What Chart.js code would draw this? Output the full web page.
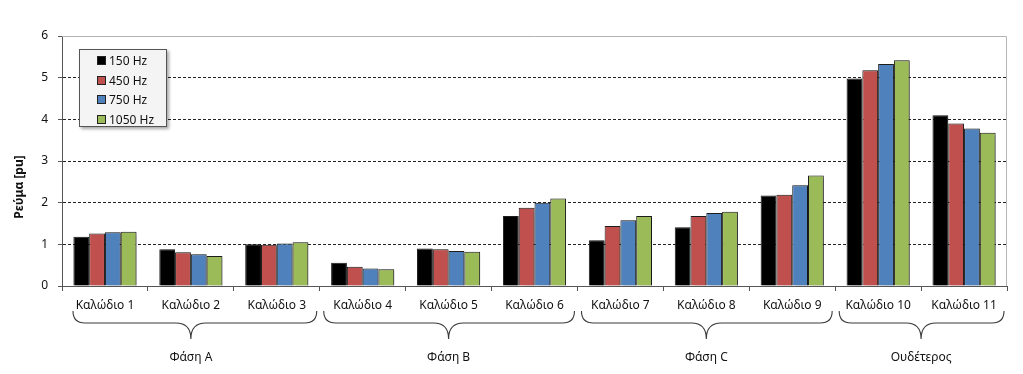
<!DOCTYPE html>
<html>
<head>
<meta charset="utf-8">
<script src="https://cdn.jsdelivr.net/npm/chart.js@4/dist/chart.umd.min.js"></script>
<style>
  html, body { margin: 0; padding: 0; background: #fff; }
  .wrap { position: relative; width: 1023px; height: 374px; }
  .legend {
    position: absolute; left: 79px; top: 49px; width: 88px; height: 78px;
    box-sizing: border-box; background: #f4f4f4; border: 1px solid #555;
    box-shadow: 2px 2px 3px rgba(0,0,0,0.35);
    font: 12px 'Noto Sans', sans-serif; color: #111; padding-top: 1px;
  }
  .legend div { height: 19.5px; line-height: 19.5px; padding-left: 17px; }
  .legend span {
    display: inline-block; width: 7px; height: 7px; border: 1px solid #222;
    margin-right: 3px;
  }
</style>
</head>
<body>
<div class="wrap">
  <canvas id="chart" width="1023" height="374"></canvas>
  <div class="legend" id="legend"></div>
</div>
<script>
// ── Data ──────────────────────────────────────────────────────
const cables = ['Καλώδιο 1', 'Καλώδιο 2', 'Καλώδιο 3', 'Καλώδιο 4', 'Καλώδιο 5', 'Καλώδιο 6',
                'Καλώδιο 7', 'Καλώδιο 8', 'Καλώδιο 9', 'Καλώδιο 10', 'Καλώδιο 11'];
const freqLabels = ['150 Hz', '450 Hz', '750 Hz', '1050 Hz'];
const hz150  = [1.18, 0.88, 1.00, 0.56, 0.90, 1.68, 1.10, 1.41, 2.17, 4.98, 4.10];
const hz450  = [1.26, 0.81, 0.99, 0.46, 0.88, 1.88, 1.44, 1.68, 2.19, 5.18, 3.90];
const hz750  = [1.29, 0.76, 1.02, 0.42, 0.84, 2.00, 1.58, 1.75, 2.42, 5.33, 3.78];
const hz1050 = [1.30, 0.72, 1.05, 0.40, 0.82, 2.10, 1.68, 1.78, 2.65, 5.42, 3.68];
const groupNames = ['Φάση A', 'Φάση B', 'Φάση C', 'Ουδέτερος'];
const groupFirst = [0, 3, 6, 9];
const groupLast  = [2, 5, 8, 10];
const yTicks = [0, 1, 2, 3, 4, 5, 6];

const colors = ['#000000', '#c0504d', '#4f81bd', '#9bbb59'];
const FONT = "'Noto Sans', sans-serif";

// ── Plugins ───────────────────────────────────────────────────
const barShadow = {
  id: 'barShadow',
  beforeDatasetsDraw(chart) {
    const ctx = chart.ctx;
    ctx.save();
    ctx.shadowColor = 'rgba(0,0,0,0.35)';
    ctx.shadowOffsetX = 2;
    ctx.shadowOffsetY = 1;
    ctx.shadowBlur = 3;
  },
  afterDatasetsDraw(chart) { chart.ctx.restore(); }
};

const decorations = {
  id: 'decorations',
  afterDraw(chart) {
    const { ctx, chartArea: a, scales: { x } } = chart;
    ctx.save();
    // frame: top and right edges
    ctx.strokeStyle = '#b4b4b4';
    ctx.lineWidth = 1;
    ctx.beginPath();
    ctx.moveTo(a.left, a.top + 0.5);
    ctx.lineTo(a.right - 0.5, a.top + 0.5);
    ctx.lineTo(a.right - 0.5, a.bottom);
    ctx.stroke();

    // y title
    ctx.fillStyle = '#111';
    ctx.font = 'bold 12px ' + FONT;
    ctx.textAlign = 'center';
    ctx.textBaseline = 'middle';
    ctx.translate(20, 187);
    ctx.rotate(-Math.PI / 2);
    ctx.fillText('Ρεύμα [pu]', 0, 0);
    ctx.setTransform(1, 0, 0, 1, 0, 0);

    // braces + group labels
    const half = x.width / cables.length / 2;
    const yTop = 311, yMid = 323, yTip = 339, rEnd = 12, rTip = 15;
    ctx.strokeStyle = '#3a3a3a';
    ctx.lineWidth = 1.1;
    groupNames.forEach((name, g) => {
      const x1 = x.getPixelForValue(groupFirst[g]) - half + (g === 0 ? 11 : 4);
      const x2 = x.getPixelForValue(groupLast[g]) + half - 3;
      const xm = (x.getPixelForValue(groupFirst[g]) + x.getPixelForValue(groupLast[g])) / 2;
      ctx.beginPath();
      ctx.moveTo(x1, yTop);
      ctx.quadraticCurveTo(x1, yMid, x1 + rEnd, yMid);
      ctx.lineTo(xm - rTip, yMid);
      ctx.quadraticCurveTo(xm, yMid, xm, yTip);
      ctx.moveTo(x2, yTop);
      ctx.quadraticCurveTo(x2, yMid, x2 - rEnd, yMid);
      ctx.lineTo(xm + rTip, yMid);
      ctx.quadraticCurveTo(xm, yMid, xm, yTip);
      ctx.stroke();

      ctx.fillStyle = '#111';
      ctx.font = '12px ' + FONT;
      ctx.textAlign = 'center';
      ctx.textBaseline = 'middle';
      ctx.fillText(name, xm, 358);
    });
    ctx.restore();
  }
};

// ── Chart ─────────────────────────────────────────────────────
const seriesValues = [hz150, hz450, hz750, hz1050];
const datasets = freqLabels.map((label, i) => ({
  label,
  data: seriesValues[i],
  backgroundColor: colors[i],
  borderColor: '#1e1e1e',
  borderWidth: 1,
  borderSkipped: 'bottom',
  categoryPercentage: 0.735,
  barPercentage: 1.0,
}));

new Chart(document.getElementById('chart'), {
  type: 'bar',
  data: { labels: cables, datasets },
  options: {
    responsive: false,
    animation: false,
    events: [],
    layout: { padding: { left: 0, right: 16, top: 36, bottom: 0 } },
    plugins: { legend: { display: false }, tooltip: { enabled: false } },
    scales: {
      x: {
        afterFit: (s) => { s.height = 88; },
        grid: { display: true, offset: true, drawOnChartArea: false, tickLength: 5, color: '#555' },
        border: { color: '#555', width: 1 },
        ticks: { color: '#111', font: { family: FONT, size: 12 }, padding: 7, maxRotation: 0, autoSkip: false },
      },
      y: {
        min: 0, max: 6,
        afterFit: (s) => { s.width = 62; },
        afterBuildTicks: (s) => { s.ticks = yTicks.map(v => ({ value: v })); },
        grid: {
          color: (c) => (c.tick && (c.tick.value === 0 || c.tick.value === 6)) ? 'rgba(0,0,0,0)' : '#222',
          tickColor: '#555',
          tickLength: 4,
          lineWidth: 1,
        },
        border: { color: '#555', width: 1, dash: [3, 2] },
        ticks: { color: '#111', font: { family: FONT, size: 12 }, padding: 10 },
      },
    },
  },
  plugins: [barShadow, decorations],
});

// HTML legend from the series arrays
document.getElementById('legend').innerHTML = freqLabels
  .map((l, i) => `<div><span style="background:${colors[i]}"></span>${l}</div>`)
  .join('');
</script>
</body>
</html>
